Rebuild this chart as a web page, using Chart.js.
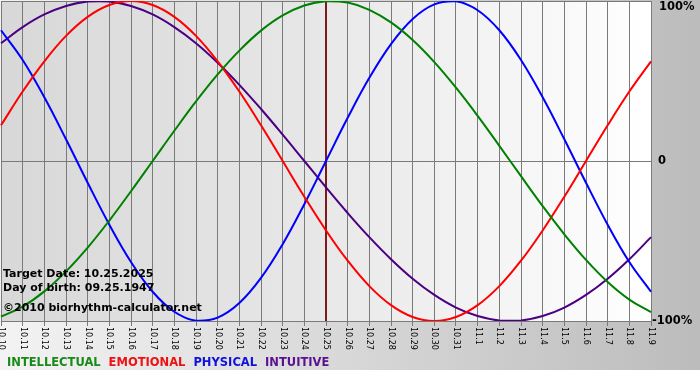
<!DOCTYPE html>
<html>
<head>
<meta charset="utf-8">
<script src="https://cdn.jsdelivr.net/npm/chart.js@4/dist/chart.umd.min.js"></script>
<style>
  body { margin: 0; background: #ffffff; }
  canvas { display: block; }
</style>
</head>
<body>
<canvas id="bioChart" width="700" height="380"></canvas>
<script>
// days shown on the x axis
const days = ['10.10','10.11','10.12','10.13','10.14','10.15','10.16','10.17','10.18','10.19',
  '10.20','10.21','10.22','10.23','10.24','10.25','10.26','10.27','10.28','10.29','10.30','10.31',
  '11.1','11.2','11.3','11.4','11.5','11.6','11.7','11.8','11.9'];

// percent values, one per day
const intellectual = [-97.2,-91.0,-81.5,-69.0,-54.1,-37.2,-18.9,0,18.9,37.2,54.1,69.0,81.5,91.0,97.2,
  99.9,99.0,94.5,86.6,75.6,61.8,45.8,28.2,9.5,-9.5,-28.2,-45.8,-61.8,-75.6,-86.6,-94.5];
const emotional = [22.3,43.4,62.3,78.2,90.1,97.5,100,97.5,90.1,78.2,62.3,43.4,22.3,0,-22.3,
  -43.4,-62.3,-78.2,-90.1,-97.5,-100,-97.5,-90.1,-78.2,-62.3,-43.4,-22.3,0,22.3,43.4,62.3];
const physical = [81.7,63.1,39.8,13.6,-13.6,-39.8,-63.1,-81.7,-94.2,-99.8,-97.9,-88.8,-73.1,-52.0,-27.0,
  0,27.0,52.0,73.1,88.8,97.9,99.8,94.2,81.7,63.1,39.8,13.6,-13.6,-39.8,-63.1,-81.7];
const intuitive = [73.6,83.7,91.6,96.9,99.7,99.7,96.9,91.6,83.7,73.6,61.4,47.6,32.5,16.5,0,
  -16.5,-32.5,-47.6,-61.4,-73.6,-83.7,-91.6,-96.9,-99.7,-99.7,-96.9,-91.6,-83.7,-73.6,-61.4,-47.6];

const yTicks = [100, 0, -100];
const yTickText = ['100%', '0', '-100%'];
const targetDay = '10.25';
const infoLines = ['Target Date: 10.25.2025', 'Day of birth: 09.25.1947', '\u00a92010 biorhythm-calculator.net'];
const legendNames = ['INTELLECTUAL', 'EMOTIONAL', 'PHYSICAL', 'INTUITIVE'];
const legendColors = ['#178a17', '#ee1111', '#1111dd', '#5a1090'];

const bioDecor = {
  id: 'bioDecor',
  beforeDraw(chart) {
    const ctx = chart.ctx;
    const a = chart.chartArea;
    ctx.save();
    // outer frame gradient
    let g = ctx.createLinearGradient(0, 0, 700, 0);
    g.addColorStop(0, '#f3f3f3');
    g.addColorStop(1, '#bcbcbc');
    ctx.fillStyle = g;
    ctx.fillRect(0, 0, 700, 370);
    // plot area gradient
    g = ctx.createLinearGradient(a.left, 0, a.right, 0);
    g.addColorStop(0, '#d8d8d8');
    g.addColorStop(0.45, '#e6e6e6');
    g.addColorStop(1, '#ffffff');
    ctx.fillStyle = g;
    ctx.fillRect(a.left, a.top, a.right - a.left, a.bottom - a.top);
    ctx.restore();
  },
  beforeDatasetsDraw(chart) {
    const ctx = chart.ctx;
    const a = chart.chartArea;
    const x = chart.scales.x.getPixelForValue(days.indexOf(targetDay));
    ctx.save();
    ctx.strokeStyle = '#7e1a1a';
    ctx.lineWidth = 2;
    ctx.beginPath();
    ctx.moveTo(x, a.top);
    ctx.lineTo(x, a.bottom);
    ctx.stroke();
    ctx.restore();
  },
  afterDraw(chart) {
    const ctx = chart.ctx;
    const a = chart.chartArea;
    const xs = chart.scales.x;
    const ys = chart.scales.y;
    ctx.save();
    // rotated day labels
    ctx.fillStyle = '#000000';
    ctx.font = '8px "DejaVu Sans"';
    ctx.textAlign = 'left';
    ctx.textBaseline = 'middle';
    days.forEach((d, i) => {
      ctx.save();
      ctx.translate(xs.getPixelForValue(i), a.bottom + 6);
      ctx.rotate(Math.PI / 2);
      ctx.fillText(d, 0, 0);
      ctx.restore();
    });
    // right axis labels
    ctx.font = 'bold 11.5px "DejaVu Sans"';
    ctx.textBaseline = 'middle';
    ctx.textAlign = 'left';
    yTicks.forEach((v, i) => {
      let y = ys.getPixelForValue(v);
      if (v === 100) y += 6;
      const x = v === -100 ? a.right + 1 : (v === 0 ? a.right + 7 : a.right + 8);
      ctx.fillText(yTickText[i], x, y);
    });
    // info text
    ctx.font = 'bold 11px "DejaVu Sans"';
    ctx.textBaseline = 'alphabetic';
    ctx.fillText(infoLines[0], 3, 277);
    ctx.fillText(infoLines[1], 3, 291);
    ctx.fillText(infoLines[2], 3, 311);
    // legend
    ctx.font = 'bold 11.5px "DejaVu Sans"';
    let lx = 7;
    legendNames.forEach((n, i) => {
      ctx.fillStyle = legendColors[i];
      ctx.fillText(n, lx, 366);
      lx += ctx.measureText(n).width + 8;
    });
    ctx.restore();
  }
};

function line(label, data, color) {
  return {
    label: label,
    data: data,
    borderColor: color,
    borderWidth: 2,
    pointRadius: 0,
    tension: 0.4,
    fill: false
  };
}

new Chart(document.getElementById('bioChart'), {
  type: 'line',
  data: {
    labels: days,
    datasets: [
      line('INTELLECTUAL', intellectual, '#008000'),
      line('EMOTIONAL', emotional, '#ff0000'),
      line('PHYSICAL', physical, '#0000ff'),
      line('INTUITIVE', intuitive, '#4b0082')
    ]
  },
  options: {
    responsive: false,
    animation: false,
    layout: { padding: { left: 1, top: 1, right: 49, bottom: 54 } },
    plugins: { legend: { display: false }, tooltip: { enabled: false } },
    scales: {
      x: {
        ticks: { display: false },
        grid: { color: '#7a7a7a', lineWidth: 1, tickLength: 5, drawTicks: true },
        border: { color: '#7a7a7a' }
      },
      y: {
        position: 'right',
        min: -100,
        max: 100,
        ticks: { display: false, stepSize: 100 },
        grid: { color: '#7a7a7a', lineWidth: 1, drawTicks: false },
        border: { display: false }
      }
    }
  },
  plugins: [bioDecor]
});
</script>
</body>
</html>
